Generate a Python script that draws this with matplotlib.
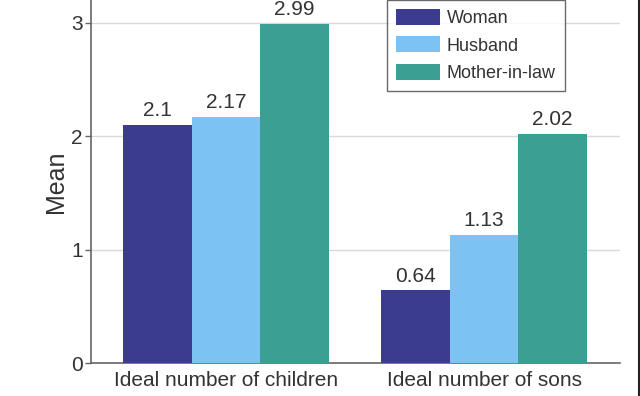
import matplotlib
matplotlib.use("Agg")
import matplotlib.pyplot as plt
from matplotlib.lines import Line2D
import numpy as np

plt.rcParams['font.family'] = ['Liberation Sans', 'DejaVu Sans']

# data
categories = ['Ideal number of children', 'Ideal number of sons']
groups = ['Woman', 'Husband', 'Mother-in-law']
woman = [2.1, 0.64]
husband = [2.17, 1.13]
mother_in_law = [2.99, 2.02]
value_labels = [['2.1', '0.64'], ['2.17', '1.13'], ['2.99', '2.02']]

colors = ['#3b3c8f', '#7cc3f4', '#3c9f93']
text_col = '#333333'
axis_col = '#666666'

fig = plt.figure(figsize=(6.4, 3.96), dpi=100)
ax = fig.add_axes([0.1422, 0.0833, 0.8266, 0.9167])

x = np.arange(len(categories))
w = 0.266
series = [woman, husband, mother_in_law]
for i, (vals, name) in enumerate(zip(series, groups)):
    bars = ax.bar(x + (i - 1) * w, vals, width=w, color=colors[i], label=name, zorder=3)
    for b, lab in zip(bars, value_labels[i]):
        ax.text(b.get_x() + b.get_width() / 2, b.get_height() + 0.04, lab,
                ha='center', va='bottom', fontsize=15, color=text_col, zorder=4)

ax.set_xlim(-0.523, 1.527)
ax.set_ylim(0, 3.2)
ax.set_yticks([0, 1, 2, 3])
ax.set_xticks(x)
ax.set_xticklabels(categories, fontsize=15, color=text_col)
ax.tick_params(axis='x', length=0, pad=6)
ax.tick_params(axis='y', length=4, width=1, color=axis_col, labelsize=15, labelcolor=text_col, pad=2)
ax.set_ylabel('Mean', fontsize=18, color=text_col, labelpad=2)

ax.yaxis.grid(True, color='#d9d9d9', linewidth=1, zorder=0)
ax.set_axisbelow(True)
for s in ['top', 'right']:
    ax.spines[s].set_visible(False)
for s in ['left', 'bottom']:
    ax.spines[s].set_color(axis_col)
    ax.spines[s].set_linewidth(1.2)

leg = ax.legend(loc='upper right', bbox_to_anchor=(0.896, 1.0), borderaxespad=0,
                fontsize=13, frameon=True, fancybox=False, handlelength=2.4,
                handleheight=1.0, labelspacing=0.5, borderpad=0.5, handletextpad=0.4)
leg.get_frame().set_edgecolor('#444444')
leg.get_frame().set_linewidth(1)
for t in leg.get_texts():
    t.set_color(text_col)

# dark border at the right edge of the image
fig.add_artist(Line2D([0.9985, 0.9985], [0, 1], transform=fig.transFigure, color='#222222', linewidth=1.5))

fig.savefig('out.png', dpi=100)
